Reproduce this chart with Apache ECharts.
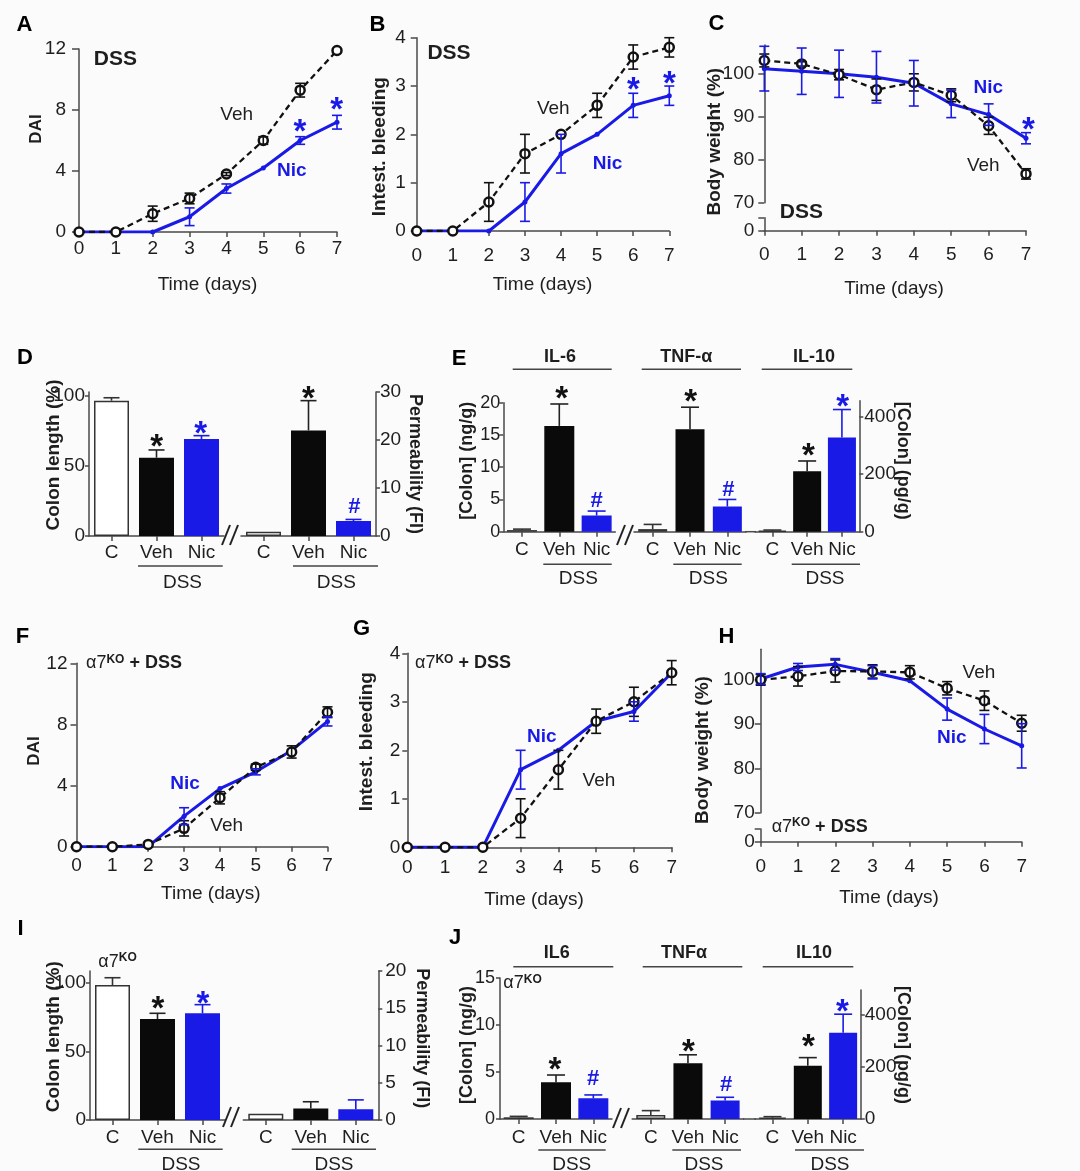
<!DOCTYPE html>
<html><head><meta charset="utf-8">
<script src="https://cdn.jsdelivr.net/npm/echarts@6/dist/echarts.min.js"></script>
<style>html,body{margin:0;padding:0;background:#fbfbfb}#c{width:1080px;height:1171px}</style>
</head><body><div id="c"></div>
<script>
// ---------- data ----------
const days = [0,1,2,3,4,5,6,7];
// A: DAI, WT + DSS
const aVeh = [0,0,1.2,2.2,3.8,6.0,9.3,11.9];
const aVehErr = [0,0,0.5,0.35,0.1,0.25,0.45,0];
const aNic = [0,0,0,1.0,2.85,4.2,6.0,7.2];
const aNicErr = [0,0,0,0.58,0.3,0,0.25,0.45];
// B: intestinal bleeding
const bVeh = [0,0,0.6,1.6,2.0,2.6,3.6,3.8];
const bVehErr = [0,0,0.4,0.4,0,0.25,0.25,0.2];
const bNic = [0,0,0,0.6,1.6,2.0,2.6,2.8];
const bNicErr = [0,0,0,0.4,0.4,0,0.25,0.2];
// C: body weight
const cVeh = [103.1,102.3,99.8,96.3,98.0,95.0,87.9,76.7];
const cVehErr = [1.5,0.5,1.2,2.5,2.0,1.5,2.0,1.2];
const cNic = [101.2,100.6,100.0,99.2,97.8,93.0,90.5,85.0];
const cNicErr = [5.2,5.4,5.5,6.0,5.3,3.2,2.5,1.3];
// F: DAI, a7KO + DSS
const fVeh = [0,0,0.15,1.2,3.2,5.2,6.2,8.8];
const fVehErr = [0,0,0,0.5,0.4,0.2,0.4,0.35];
const fNic = [0,0,0,2.0,3.8,4.9,6.3,8.2];
const fNicErr = [0,0,0,0.55,0,0.2,0,0.3];
// G: intestinal bleeding, a7KO
const gVeh = [0,0,0,0.6,1.6,2.6,3.0,3.6];
const gVehErr = [0,0,0,0.4,0.4,0.25,0.3,0.25];
const gNic = [0,0,0,1.6,2.0,2.6,2.8,3.6];
const gNicErr = [0,0,0,0.4,0,0,0.2,0];
// H: body weight, a7KO
const hVeh = [100,100.8,102,101.9,101.7,98.1,95.3,90.2];
const hVehErr = [1.2,2.2,2.5,1.5,1.5,1.5,2.2,1.8];
const hNic = [100.2,102.9,103.5,101.7,99.8,93.4,88.9,85.1];
const hNicErr = [1.2,0.8,1.3,1.5,0,2.5,3.3,5.0];
// bar groups
const groups = ['C','Veh','Nic'];
const dColon = [96.4,55.8,69.1], dColonErr = [2.1,5.5,2.4];
const dPerm = [0.9,22.0,3.1], dPermErr = [0,6.2,0.35];
const eIL6 = [0.25,16.4,2.5], eIL6Err = [0.15,3.4,0.7];
const eTNF = [0.4,15.9,3.9], eTNFErr = [0.73,3.4,1.1];
const eIL10 = [2.3,210,328], eIL10Err = [3.5,36,97];
const iColon = [98.3,73.5,77.7], iColonErr = [5.3,4.2,6.3];
const iPerm = [0.85,1.55,1.45], iPermErr = [0,0.9,1.25];
const jIL6 = [0.18,3.9,2.2], jIL6Err = [0.1,0.78,0.36];
const jTNF = [0.43,5.94,1.96], jTNFErr = [0.46,0.89,0.35];
const jIL10 = [5,205,332], jIL10Err = [4,31,71];
// tick labels
const bwTicks = [70,80,90,100];
const pgTicks = [0,200,400];
const pctTicks = [0,50,100];

// ---------- styles ----------
const FONT = 'Arial, "Liberation Sans", Helvetica, sans-serif';
const AX = '#4a4a4a', TXT = '#1e1e1e', BLUE = '#1a1ae6', BLK = '#111';
const barFill = ['#ffffff','#0a0a0a',BLUE], barEdge = ['#333','#0a0a0a',BLUE], errCol = ['#333','#222',BLUE];

const grids = [], xAxes = [], yAxes = [], series = [], graphics = [];

function yAx(gi, y) {
  return {gridIndex: gi, type: 'value', min: y.min, max: y.max, interval: y.interval,
    position: y.pos || 'left', show: y.show !== false,
    axisLine: {show: true, onZero: false, lineStyle: {color: AX, width: 1.5}},
    axisTick: {show: true, length: y.tick || 6, lineStyle: {color: AX, width: 1.5}, customValues: y.ticks},
    axisLabel: {show: true, color: TXT, fontSize: y.fs || 19, fontFamily: FONT, margin: y.margin || 10, customValues: y.labels},
    splitLine: {show: false}};
}
function xVal(gi, show, margin) {
  return {gridIndex: gi, type: 'value', min: 0, max: 7, interval: 1, show: show,
    axisLine: {show: true, onZero: false, lineStyle: {color: AX, width: 1.5}},
    axisTick: {show: true, length: 5, lineStyle: {color: AX, width: 1.5}},
    axisLabel: {color: TXT, fontSize: 19, fontFamily: FONT, margin: margin},
    splitLine: {show: false}};
}
function errLine(xi, yi, vals, errs, color) {
  const data = [];
  days.forEach((d, i) => { if (errs[i] > 0) data.push([d, vals[i] - errs[i], vals[i] + errs[i]]); });
  return {type: 'custom', xAxisIndex: xi, yAxisIndex: yi, data: data, z: 6, silent: true, animation: false,
    renderItem: (params, api) => {
      const x = api.value(0);
      const a = api.coord([x, api.value(1)]), b = api.coord([x, api.value(2)]);
      const w = 5, st = {stroke: color, lineWidth: 1.6};
      return {type: 'group', children: [
        {type: 'line', shape: {x1: a[0], y1: a[1], x2: b[0], y2: b[1]}, style: st},
        {type: 'line', shape: {x1: a[0]-w, y1: a[1], x2: a[0]+w, y2: a[1]}, style: st},
        {type: 'line', shape: {x1: b[0]-w, y1: b[1], x2: b[0]+w, y2: b[1]}, style: st}]};
    }};
}
function linePanel(p) {
  const gi = grids.push(p.grid) - 1;
  const xi = xAxes.push(xVal(gi, !p.low, p.xm)) - 1;
  const yi = yAxes.push(yAx(gi, p.y)) - 1;
  if (p.low) {
    const g2 = grids.push(p.low) - 1;
    xAxes.push(xVal(g2, true, p.xm));
    yAxes.push(yAx(g2, {min: 0, max: 1, ticks: [0, 1], labels: [0], margin: p.y.margin, tick: p.y.tick}));
  }
  series.push({type: 'line', xAxisIndex: xi, yAxisIndex: yi, data: days.map((d, i) => [d, p.nic[i]]),
    symbol: 'circle', symbolSize: 5, lineStyle: {color: BLUE, width: 3}, itemStyle: {color: BLUE},
    z: 3, silent: true, animation: false});
  series.push({type: 'line', xAxisIndex: xi, yAxisIndex: yi, data: days.map((d, i) => [d, p.veh[i]]),
    symbol: 'circle', symbolSize: 9, lineStyle: {color: BLK, width: 2.3, type: [6, 4]},
    itemStyle: {color: '#fff', borderColor: BLK, borderWidth: 2.5}, z: 4, silent: true, animation: false});
  series.push(errLine(xi, yi, p.veh, p.vehErr, BLK));
  series.push(errLine(xi, yi, p.nic, p.nicErr, BLUE));
}
function barPanel(p) {
  const gi = grids.push(p.grid) - 1;
  const xi = xAxes.push({gridIndex: gi, type: 'category', data: groups, boundaryGap: true,
    axisLine: {show: true, lineStyle: {color: AX, width: 1.5}},
    axisTick: {show: true, alignWithLabel: true, length: 5, lineStyle: {color: AX, width: 1.5}},
    axisLabel: {color: TXT, fontSize: 19, fontFamily: FONT, margin: p.xm, interval: 0, hideOverlap: false}}) - 1;
  const yi = yAxes.push(yAx(gi, p.y)) - 1;
  series.push({type: 'bar', xAxisIndex: xi, yAxisIndex: yi, barWidth: p.bw, silent: true, animation: false,
    data: p.vals.map((v, i) => ({value: v, itemStyle: {color: barFill[i], borderColor: barEdge[i], borderWidth: 1.5}}))});
  series.push({type: 'custom', xAxisIndex: xi, yAxisIndex: yi, silent: true, animation: false, z: 6,
    data: p.vals.map((v, i) => [i, v, v + p.errs[i]]),
    renderItem: (params, api) => {
      const i = params.dataIndex;
      if (!(p.errs[i] > 0)) return {type: 'group', children: []};
      const a = api.coord([api.value(0), api.value(1)]), b = api.coord([api.value(0), api.value(2)]);
      const w = p.cap || 8, st = {stroke: errCol[i], lineWidth: 1.6};
      return {type: 'group', children: [
        {type: 'line', shape: {x1: a[0], y1: a[1], x2: b[0], y2: b[1]}, style: st},
        {type: 'line', shape: {x1: b[0]-w, y1: b[1], x2: b[0]+w, y2: b[1]}, style: st}]};
    }});
}

// ---------- text helpers ----------
function txt(x, y, text, o) {
  o = o || {};
  graphics.push({type: 'text', x: x, y: y, rotation: o.rot || 0, silent: true, z: 100,
    style: {text: text, fill: o.color || TXT, fontSize: o.size || 18, fontWeight: o.bold ? 'bold' : 'normal',
      fontFamily: FONT, textAlign: o.align || 'center', textVerticalAlign: 'middle', rich: o.rich}});
}
function hline(x1, x2, y, c) {
  graphics.push({type: 'line', silent: true, z: 100, shape: {x1: x1, y1: y, x2: x2, y2: y}, style: {stroke: c || '#444', lineWidth: 1.5}});
}
function star(x, y, color) { txt(x, y + 8, '*', {size: 33, bold: true, color: color || BLK}); }
function hash(x, y) { txt(x, y, '#', {size: 22, bold: true, color: BLUE}); }
function brk(cx, cy) {
  [-4, 4].forEach(dx => graphics.push({type: 'line', silent: true, z: 100,
    shape: {x1: cx + dx - 4, y1: cy + 10, x2: cx + dx + 4, y2: cy - 10}, style: {stroke: '#222', lineWidth: 2}}));
}
const koRich = {
  a: {fontSize: 18, fontFamily: FONT, fill: TXT, lineHeight: 20},
  k: {fontSize: 12, fontFamily: FONT, fill: TXT, lineHeight: 12, verticalAlign: 'top', fontWeight: 'bold'},
  b: {fontSize: 18, fontFamily: FONT, fill: TXT, fontWeight: 'bold', lineHeight: 20}
};
function ko(x, y, withDss) {
  txt(x, y, withDss ? '{a|α7}{k|KO}{b| + DSS}' : '{a|α7}{k|KO}', {align: 'left', rich: koRich});
}

// ---------- panels ----------
linePanel({grid: {left: 79, top: 49, width: 258, height: 183}, xm: 7,
  y: {min: 0, max: 12, interval: 4, margin: 13, tick: 7}, veh: aVeh, vehErr: aVehErr, nic: aNic, nicErr: aNicErr});
linePanel({grid: {left: 416.7, top: 37.7, width: 252.6, height: 193.3}, xm: 15,
  y: {min: 0, max: 4, interval: 1, margin: 11, tick: 6}, veh: bVeh, vehErr: bVehErr, nic: bNic, nicErr: bNicErr});
linePanel({grid: {left: 764.3, top: 45, width: 261.7, height: 157.7}, low: {left: 764.3, top: 217.7, width: 261.7, height: 13}, xm: 15,
  y: {min: 70, max: 106.7, interval: 10, ticks: bwTicks, labels: bwTicks, margin: 10, tick: 6},
  veh: cVeh, vehErr: cVehErr, nic: cNic, nicErr: cNicErr});
linePanel({grid: {left: 76.5, top: 663.3, width: 251, height: 183.4}, xm: 10,
  y: {min: 0, max: 12, interval: 4, margin: 9, tick: 6}, veh: fVeh, vehErr: fVehErr, nic: fNic, nicErr: fNicErr});
linePanel({grid: {left: 407.3, top: 653.3, width: 264.4, height: 194}, xm: 11,
  y: {min: 0, max: 4, interval: 1, margin: 7, tick: 5}, veh: gVeh, vehErr: gVehErr, nic: gNic, nicErr: gNicErr});
linePanel({grid: {left: 760.7, top: 649.3, width: 261, height: 163.4}, low: {left: 760.7, top: 829, width: 261, height: 12.7}, xm: 16,
  y: {min: 70, max: 106.9, interval: 10, ticks: bwTicks, labels: bwTicks, margin: 6, tick: 6},
  veh: hVeh, vehErr: hVehErr, nic: hNic, nicErr: hNicErr});

barPanel({grid: {left: 89, top: 392, width: 135, height: 144}, xm: 7, bw: 35,
  y: {min: 0, max: 102.6, interval: 50, ticks: pctTicks, labels: pctTicks, margin: 4, tick: 4}, vals: dColon, errs: dColonErr});
barPanel({grid: {left: 241, top: 392, width: 135, height: 144}, xm: 7, bw: 35,
  y: {min: 0, max: 30, interval: 10, pos: 'right', margin: 4, tick: 4}, vals: dPerm, errs: dPermErr});
barPanel({grid: {left: 503.3, top: 402.7, width: 112, height: 129}, xm: 9, bw: 30, cap: 9,
  y: {min: 0, max: 20, interval: 5, margin: 3, tick: 4, fs: 18}, vals: eIL6, errs: eIL6Err});
barPanel({grid: {left: 634, top: 402.7, width: 112, height: 129}, xm: 9, bw: 29, cap: 9,
  y: {min: 0, max: 20, interval: 5, show: false}, vals: eTNF, errs: eTNFErr});
barPanel({grid: {left: 755, top: 400.7, width: 104.3, height: 131}, xm: 9, bw: 28, cap: 9,
  y: {min: 0, max: 455.7, interval: 200, ticks: pgTicks, labels: pgTicks, pos: 'right', margin: 5, tick: 4}, vals: eIL10, errs: eIL10Err});
barPanel({grid: {left: 90, top: 971, width: 135, height: 149}, xm: 8, bw: 35,
  y: {min: 0, max: 108.5, interval: 50, ticks: pctTicks, labels: pctTicks, margin: 4, tick: 4}, vals: iColon, errs: iColonErr});
barPanel({grid: {left: 243.3, top: 971, width: 135, height: 149}, xm: 8, bw: 35,
  y: {min: 0, max: 20, interval: 5, pos: 'right', margin: 7, tick: 4}, vals: iPerm, errs: iPermErr});
barPanel({grid: {left: 500, top: 978, width: 112, height: 141}, xm: 9, bw: 30, cap: 9,
  y: {min: 0, max: 15, interval: 5, margin: 5, tick: 4, fs: 18}, vals: jIL6, errs: jIL6Err});
barPanel({grid: {left: 632.2, top: 978, width: 111.5, height: 141}, xm: 9, bw: 29, cap: 9,
  y: {min: 0, max: 15, interval: 5, show: false}, vals: jTNF, errs: jTNFErr});
barPanel({grid: {left: 754.8, top: 990, width: 106, height: 129}, xm: 9, bw: 28, cap: 9,
  y: {min: 0, max: 496, interval: 200, ticks: pgTicks, labels: pgTicks, pos: 'right', margin: 4, tick: 4}, vals: jIL10, errs: jIL10Err});

// join the baselines of the TNF and IL-10 groups
hline(745, 756, 531.7, AX);
hline(743, 756, 1119, AX);

// ---------- annotations ----------
const R = Math.PI / 2;
[['A',24.5,24.5],['B',377.5,25],['C',716.5,23.5],['D',25,358],['E',459,359],['F',22.5,637],['G',361.5,628.5],['H',726.5,636.5],['I',20.5,928.5],['J',455,937.5]]
  .forEach(l => txt(l[1], l[2], l[0], {size: 22, bold: true, color: '#000'}));
// axis titles
txt(36.7, 129, 'DAI', {rot: R, bold: true, size: 17});
txt(380, 146.7, 'Intest. bleeding', {rot: R, bold: true, size: 19});
txt(715, 141.7, 'Body weight (%)', {rot: R, bold: true, size: 19});
txt(53.3, 455, 'Colon length (%)', {rot: R, bold: true, size: 19});
txt(415, 464, 'Permeability (FI)', {rot: -R, bold: true, size: 18});
txt(467, 460.8, '[Colon] (ng/g)', {rot: R, bold: true, size: 18});
txt(903.3, 460.8, '[Colon] (pg/g)', {rot: -R, bold: true, size: 18});
txt(34, 751, 'DAI', {rot: R, bold: true, size: 17});
txt(366.7, 741.7, 'Intest. bleeding', {rot: R, bold: true, size: 19});
txt(702.5, 750, 'Body weight (%)', {rot: R, bold: true, size: 19});
txt(53.3, 1036.7, 'Colon length (%)', {rot: R, bold: true, size: 19});
txt(421.7, 1038.3, 'Permeability (FI)', {rot: -R, bold: true, size: 18});
txt(467, 1045, '[Colon] (ng/g)', {rot: R, bold: true, size: 18});
txt(902.5, 1045, '[Colon] (pg/g)', {rot: -R, bold: true, size: 18});
[[207.5,285],[542.5,285],[894,289],[210.8,893.3],[534,899.3],[889,897.3]].forEach(p => txt(p[0], p[1], 'Time (days)', {size: 19}));
// A
txt(115.3, 59.3, 'DSS', {bold: true, size: 21});
txt(236.7, 115, 'Veh', {size: 19});
txt(291.7, 170.7, 'Nic', {bold: true, size: 19, color: BLUE});
star(300, 125, BLUE); star(336.7, 103.3, BLUE);
// B
txt(449, 53.3, 'DSS', {bold: true, size: 21});
txt(553.3, 108.3, 'Veh', {size: 19});
txt(607.5, 164, 'Nic', {bold: true, size: 19, color: BLUE});
star(633.3, 83, BLUE); star(669.3, 77, BLUE);
// C
txt(801.3, 212, 'DSS', {bold: true, size: 21});
txt(988.3, 88, 'Nic', {bold: true, size: 19, color: BLUE});
txt(983.3, 166, 'Veh', {size: 19});
star(1028.3, 123, BLUE);
// D
star(156.7, 440); star(200.7, 427.3, BLUE); star(308.3, 391.7); hash(354.3, 506.7);
hline(138, 222.7, 566); hline(293, 378, 566);
txt(182.5, 582.3, 'DSS', {size: 19}); txt(336.3, 582.3, 'DSS', {size: 19});
brk(230, 535);
// E
txt(560, 356.7, 'IL-6', {bold: true, size: 18}); txt(686.3, 356.7, 'TNF-α', {bold: true, size: 18}); txt(814, 356.7, 'IL-10', {bold: true, size: 18});
hline(512.7, 611.7, 369.3); hline(641.7, 741, 369.3); hline(761.7, 852.3, 369.3);
star(561.7, 391.7); hash(596.7, 500.7); star(690.7, 395); hash(728.3, 490); star(808.3, 449.3); star(842.7, 400, BLUE);
hline(543.3, 611.7, 564.3); hline(673.3, 741.7, 564.3); hline(791.7, 860, 564.3);
txt(578.3, 578.3, 'DSS', {size: 19}); txt(708.3, 578.3, 'DSS', {size: 19}); txt(825, 578.3, 'DSS', {size: 19});
brk(625, 535);
// F
ko(86, 663.3, true);
txt(185, 783.3, 'Nic', {bold: true, size: 19, color: BLUE});
txt(226.7, 826, 'Veh', {size: 19});
// G
ko(415, 663.3, true);
txt(541.7, 736.7, 'Nic', {bold: true, size: 19, color: BLUE});
txt(599, 780.7, 'Veh', {size: 19});
// H
txt(979, 672.7, 'Veh', {size: 19});
txt(951.7, 737.7, 'Nic', {bold: true, size: 19, color: BLUE});
ko(771.7, 826.7, true);
// I
ko(98.3, 961.7, false);
star(158, 1001.7); star(203, 996.7, BLUE);
hline(138.3, 222.7, 1149.3); hline(291.7, 376, 1149.3);
txt(181, 1165, 'DSS', {size: 19}); txt(334, 1165, 'DSS', {size: 19});
brk(231, 1117);
// J
txt(556.7, 953.3, 'IL6', {bold: true, size: 18}); txt(684, 953.3, 'TNFα', {bold: true, size: 18}); txt(814, 953.3, 'IL10', {bold: true, size: 18});
hline(513.3, 613.3, 966.7); hline(642.7, 742.3, 966.7); hline(762.7, 853.3, 966.7);
ko(503.3, 983.3, false);
star(555, 1062.7); hash(593, 1079.3); star(688.3, 1045); hash(726, 1085); star(808.3, 1040); star(842.3, 1005, BLUE);
hline(538.3, 605.7, 1150); hline(672.3, 741, 1150); hline(795, 864, 1150);
txt(571.7, 1165, 'DSS', {size: 19}); txt(704, 1165, 'DSS', {size: 19}); txt(830, 1165, 'DSS', {size: 19});
brk(621, 1118);

const chart = echarts.init(document.getElementById('c'));
chart.setOption({
  backgroundColor: '#fbfbfb', animation: false,
  textStyle: {fontFamily: FONT},
  grid: grids, xAxis: xAxes, yAxis: yAxes, series: series, graphic: graphics
});
</script></body></html>
